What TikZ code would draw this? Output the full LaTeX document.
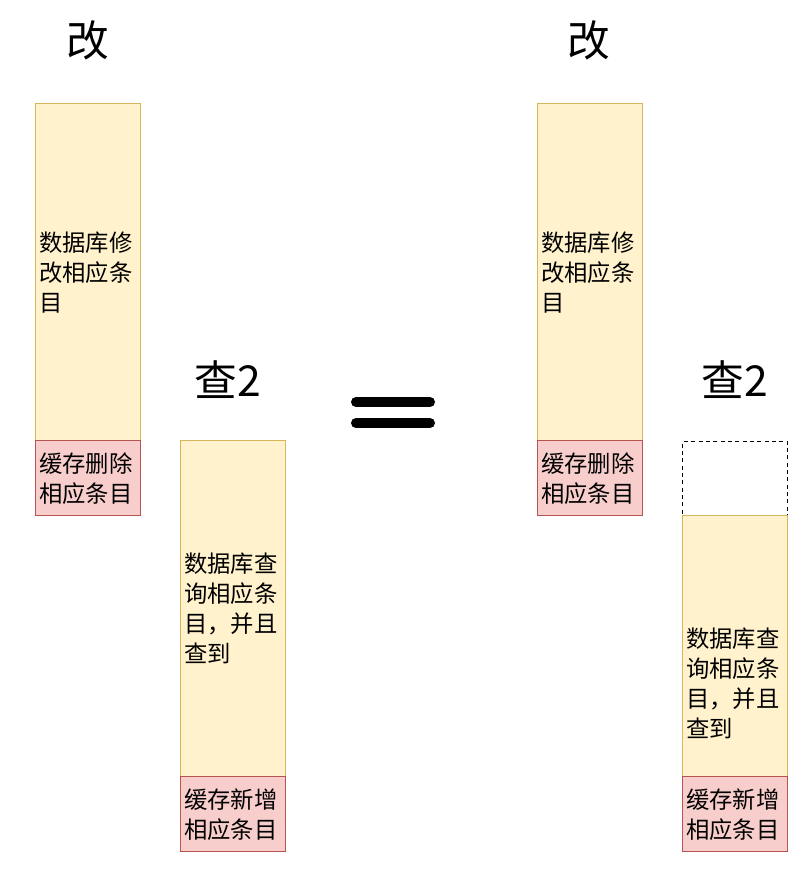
\documentclass[tikz,border=0pt]{standalone}
\usepackage{fontspec}
\setmainfont{Noto Sans CJK SC}
\begin{document}
\begin{tikzpicture}[x=0.75pt,y=-0.75pt,
  base/.style={draw, line width=1pt, rectangle, anchor=north west, minimum width=105*0.75pt, inner xsep=2.5pt, inner ysep=0pt, text width=73.75pt, align=left, font=\fontsize{17.5pt}{22.5pt}\selectfont},
  dbbox/.style={base, fill={rgb,255:red,255;green,242;blue,204}, draw={rgb,255:red,214;green,182;blue,86}},
  cachebox/.style={base, fill={rgb,255:red,248;green,206;blue,204}, draw={rgb,255:red,184;green,84;blue,80}, minimum height=75*0.75pt},
  ghost/.style={draw, line width=1.1pt, dash pattern=on 3pt off 2.5pt, rectangle, anchor=north west, minimum width=105*0.75pt, minimum height=74*0.75pt},
  title/.style={font=\fontsize{32pt}{36pt}\selectfont, inner sep=0pt},
  eqbar/.style={line width=7.5pt, line cap=round}
]
\useasboundingbox (0,0) rectangle (812,878);

% left pair
\node[title] (t1) at (88,40) {改};
\node[dbbox, minimum height=337*0.75pt] (db1) at (35,103) {数据库修\\改相应条\\目};
\node[cachebox] (c1) at (35,440) {缓存删除\\相应条目};

\node[title] (t2) at (228,380) {查2};
\node[dbbox, minimum height=336*0.75pt] (db2) at (180,440) {数据库查\\询相应条\\目，并且\\查到};
\node[cachebox] (c2) at (180,776) {缓存新增\\相应条目};

% equals
\coordinate (e1a) at (356,402);
\coordinate (e1b) at (430,402);
\coordinate (e2a) at (356,423);
\coordinate (e2b) at (430,423);
\draw[eqbar] (e1a) -- (e1b);
\draw[eqbar] (e2a) -- (e2b);

% right pair
\node[title] (t3) at (589,40) {改};
\node[dbbox, minimum height=337*0.75pt] (db3) at (537,103) {数据库修\\改相应条\\目};
\node[cachebox] (c3) at (537,440) {缓存删除\\相应条目};

\node[title] (t4) at (735,380) {查2};
\node[ghost] (g4) at (682,441) {};
\node[dbbox, minimum height=336*0.75pt] (db4) at (682,515) {数据库查\\询相应条\\目，并且\\查到};
\node[cachebox] (c4) at (682,776) {缓存新增\\相应条目};
\end{tikzpicture}
\end{document}
